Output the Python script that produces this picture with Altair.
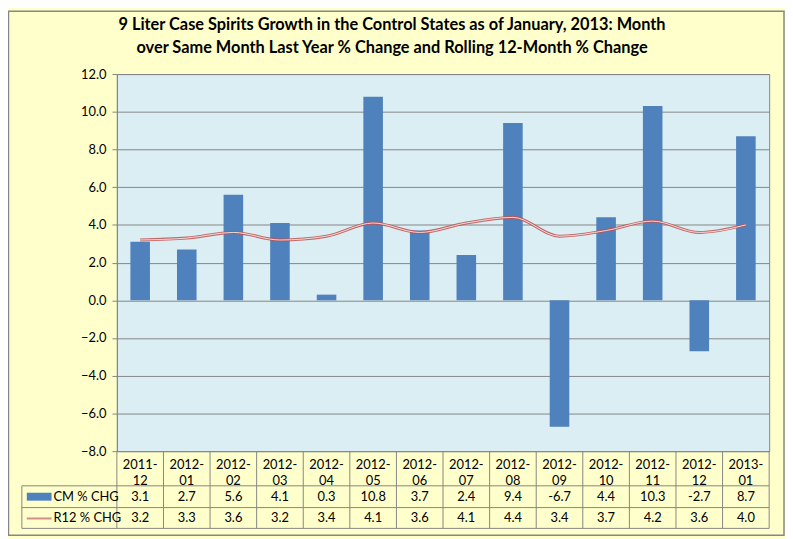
import altair as alt
import pandas as pd

months = ["2011-12", "2012-01", "2012-02", "2012-03", "2012-04", "2012-05", "2012-06",
          "2012-07", "2012-08", "2012-09", "2012-10", "2012-11", "2012-12", "2013-01"]
cm_chg = [3.1, 2.7, 5.6, 4.1, 0.3, 10.8, 3.7, 2.4, 9.4, -6.7, 4.4, 10.3, -2.7, 8.7]
r12_chg = [3.2, 3.3, 3.6, 3.2, 3.4, 4.1, 3.6, 4.1, 4.4, 3.4, 3.7, 4.2, 3.6, 4.0]
y_ticks = [-8, -6, -4, -2, 0, 2, 4, 6, 8, 10, 12]
series_names = ["CM % CHG", "R12 % CHG"]
title_lines = ["9 Liter Case Spirits Growth in the Control States as of  January, 2013:  Month",
               "over Same Month Last Year % Change and Rolling 12-Month % Change"]

df = pd.DataFrame({"month": months, "cm": cm_chg, "r12": r12_chg})
df["top"] = [m.split("-")[0] + "-" for m in months]
df["bot"] = [m.split("-")[1] for m in months]
df["cm_txt"] = [f"{v:.1f}" for v in cm_chg]
df["r12_txt"] = [f"{v:.1f}" for v in r12_chg]

W, H = 659, 381
FONT = "Lato"
GRAY = "#868686"
BLUE = "#4F81BD"
RED = "#C0504D"

xs = alt.Scale(domain=months, paddingInner=0, paddingOuter=0)
x_band = alt.X("month:N", scale=xs, axis=None, sort=months)
x_mid = alt.X("month:N", scale=xs, axis=None, sort=months, bandPosition=0.5)
x_edge = alt.X("month:N", scale=xs, axis=None, sort=months, bandPosition=0)

ys = alt.Scale(domain=[-8, 12], nice=False, zero=False)
y_axis = alt.Axis(values=y_ticks, tickCount=11, format=".1f", title=None, grid=True,
                  gridColor=GRAY, gridWidth=1, domainColor=GRAY,
                  tickColor=GRAY, tickSize=5, labelPadding=6, labelOverlap=False,
                  labelFont=FONT, labelFontSize=13, labelColor="#000000")

def yq(field):
    return alt.Y(f"{field}:Q", scale=ys, axis=y_axis)

base = alt.Chart(df)

bars = base.mark_bar(color=BLUE, width={"band": 0.42}).encode(x=x_band, y=yq("cm"))

line_outer = base.mark_line(color=RED, strokeWidth=3, opacity=0.85,
                            interpolate="monotone").encode(x=x_mid, y=yq("r12"))
line_inner = base.mark_line(color="#F2DCDB", strokeWidth=1, interpolate="monotone").encode(
    x=x_mid, y=yq("r12"))

def txt(field, yv):
    return base.mark_text(font=FONT, fontSize=13, color="#000000", baseline="middle").encode(
        x=x_mid, y=alt.value(yv), text=alt.Text(f"{field}:N"))

hdr1 = txt("top", 395)
hdr2 = txt("bot", 411)
row_cm = txt("cm_txt", 427)
row_r12 = txt("r12_txt", 449)

one = alt.Data(values=[{}])

def rule(**enc):
    return alt.Chart(one).mark_rule(color=GRAY, strokeWidth=1).encode(**enc)

vsep = base.mark_rule(color=GRAY, strokeWidth=1).encode(
    x=x_edge, y=alt.value(381), y2=alt.value(459))
rules = [
    rule(x=alt.value(W), y=alt.value(381), y2=alt.value(459)),
    rule(x=alt.value(-96), y=alt.value(416), y2=alt.value(459)),
    rule(x=alt.value(-96), x2=alt.value(W), y=alt.value(416)),
    rule(x=alt.value(-96), x2=alt.value(W), y=alt.value(438)),
    rule(x=alt.value(-96), x2=alt.value(W), y=alt.value(459)),
]

legend_rect = alt.Chart(one).mark_rect(color=BLUE).encode(
    x=alt.value(-91), x2=alt.value(-66), y=alt.value(423), y2=alt.value(431))
legend_line = alt.Chart(one).mark_rule(color="#D58C8A", strokeWidth=2).encode(
    x=alt.value(-91), x2=alt.value(-66), y=alt.value(449))
legend_t1 = alt.Chart(one).mark_text(font=FONT, fontSize=13, align="left", baseline="middle").encode(
    x=alt.value(-64), y=alt.value(427), text=alt.value(series_names[0]))
legend_t2 = alt.Chart(one).mark_text(font=FONT, fontSize=13, align="left", baseline="middle").encode(
    x=alt.value(-64), y=alt.value(449), text=alt.value(series_names[1]))

title1 = alt.Chart(one).mark_text(font=FONT, fontSize=16.5, fontWeight="bold", baseline="middle",
                                  align="center").encode(
    x=alt.value(278), y=alt.value(-50), text=alt.value(title_lines[0]))
title2 = alt.Chart(one).mark_text(font=FONT, fontSize=16.5, fontWeight="bold", baseline="middle",
                                  align="center").encode(
    x=alt.value(278), y=alt.value(-26), text=alt.value(title_lines[1]))

border = alt.Chart(one).mark_rect(fill=None, stroke=GRAY, strokeWidth=1.5).encode(
    x=alt.value(-109.5), x2=alt.value(W + 15), y=alt.value(-63.5), y2=alt.value(H + 85))

chart = alt.layer(
    border, bars, line_outer, line_inner, vsep, *rules, hdr1, hdr2, row_cm, row_r12,
    legend_rect, legend_line, legend_t1, legend_t2, title1, title2,
).properties(
    width=W, height=H,
    autosize=alt.AutoSizeParams(type="none"),
    padding={"left": 110, "top": 64, "right": 16, "bottom": 86},
    background="#FFFFCC",
).configure_view(
    fill="#DBEEF4", stroke=GRAY, strokeWidth=1,
)

chart.save("out.html", embed_options={"renderer": "svg", "actions": False})
